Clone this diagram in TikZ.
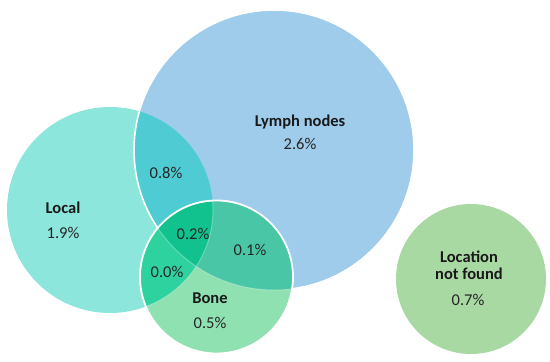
\documentclass[tikz,border=0pt]{standalone}
\usepackage{fontspec}
\setmainfont{Carlito}
\begin{document}
\begin{tikzpicture}[x=1pt,y=-1pt,
  lbl/.style={font=\fontsize{16.5}{19}\selectfont\bfseries,text=black!90,inner sep=0pt,anchor=base},
  pct/.style={font=\fontsize{16.5}{19}\selectfont,text=black!85,inner sep=0pt,anchor=base}]
\definecolor{cLymph}{HTML}{9FCCEB}
\definecolor{cLocal}{HTML}{8DE6DC}
\definecolor{cLocLym}{HTML}{4FCBD3}
\definecolor{cBone}{HTML}{8FE1B1}
\definecolor{cBoneLym}{HTML}{48C6A5}
\definecolor{cBoneLoc}{HTML}{2ED29E}
\definecolor{cAll}{HTML}{11C28F}
\definecolor{cLocation}{HTML}{A9D9A3}
\useasboundingbox (0,0) rectangle (550,362);
\def\lymph{(274,150) circle (140)}
\def\local{(110,210) circle (103)}
\def\bone{(216.5,277) circle (76.5)}
% base fills
\fill[cLymph] \lymph;
\fill[cLocal] \local;
\begin{scope}
  \clip \local;
  \fill[cLocLym] \lymph;
\end{scope}
\draw[white,line width=1.6pt] \lymph;
\fill[cBone] \bone;
\begin{scope}
  \clip \bone;
  \fill[cBoneLym] \lymph;
  \fill[cBoneLoc] \local;
  \clip \local;
  \fill[cAll] \lymph;
\end{scope}
\begin{scope}
  \clip \bone;
  \draw[white,opacity=0.3,line width=1pt] \lymph;
  \draw[white,opacity=0.3,line width=1pt] \local;
\end{scope}
\draw[white,line width=1.8pt] \bone;
\fill[cLocation] (471,279) circle (75);
% labels
\node[lbl] (lymphL) at (300,126) {Lymph nodes};
\node[pct] (lymphP) at (300,149) {2.6\%};
\node[lbl] (localL) at (63,213) {Local};
\node[pct] (localP) at (63,238) {1.9\%};
\node[pct] (ll) at (166,178) {0.8\%};
\node[pct] (all) at (193,239) {0.2\%};
\node[pct] (bl) at (250,255) {0.1\%};
\node[pct] (bo) at (167,277) {0.0\%};
\node[lbl] (boneL) at (210,303) {Bone};
\node[pct] (boneP) at (210,328) {0.5\%};
\node[lbl] (locA) at (469,262) {Location};
\node[lbl] (locB) at (469,279) {not found};
\node[pct] (locP) at (468,305) {0.7\%};
\end{tikzpicture}
\end{document}
